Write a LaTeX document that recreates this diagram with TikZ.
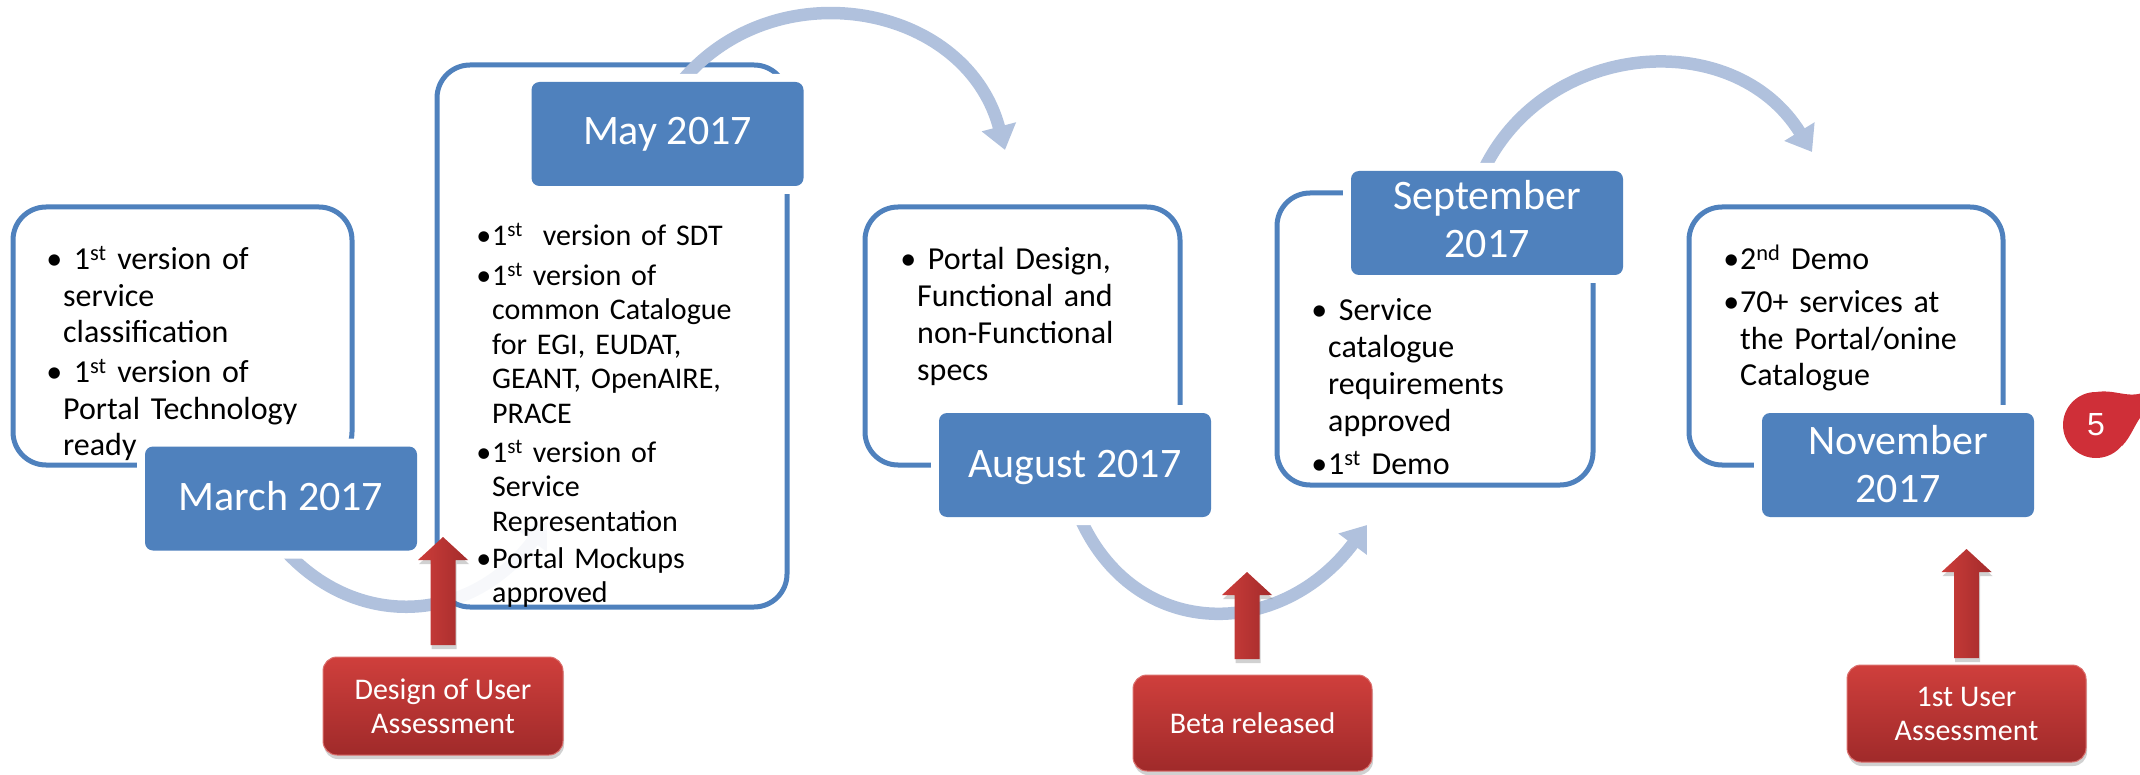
\documentclass[tikz,border=0pt]{standalone}
\usepackage{fontspec}
\setmainfont{Carlito}
\newfontfamily\badgefont{Liberation Sans}
\usetikzlibrary{arrows.meta,shadows}

\definecolor{ppblue}{HTML}{4F81BD}
\definecolor{arcblue}{HTML}{B0C1DD}
\definecolor{redtop}{HTML}{CF3F3C}
\definecolor{redbot}{HTML}{A02A2A}
\definecolor{redleft}{HTML}{CC3D3A}
\definecolor{redright}{HTML}{A32B2B}
\definecolor{badgered}{HTML}{CF2F38}

% hanging bullet placed left of the text column
\newcommand\bl{\leavevmode\llap{\textbullet\kern1pt}}
\newcommand\ord[1]{\textsuperscript{#1}}

% upward block arrow: x, tip y, tail y
\newcommand\blockup[3]{%
  \path[blockarrow] (#1-12.5,#3) -- (#1-12.5,#2+23) -- (#1-25,#2+23) -- (#1,#2)
    -- (#1+25,#2+23) -- (#1+12.5,#2+23) -- (#1+12.5,#3) -- cycle;}

\begin{document}
\begin{tikzpicture}[x=1pt,y=-1pt,
  panel/.style={draw=ppblue, line width=5pt, fill=white, fill opacity=0.9,
    rounded corners=33pt, inner sep=0pt},
  datebox/.style={fill=ppblue, rounded corners=8pt, inner sep=0pt,
    minimum width=272pt, minimum height=104pt,
    preaction={draw=white, line width=16pt}},
  datetext/.style={text=white, inner sep=0pt, align=center,
    font=\fontsize{42}{48}\selectfont},
  bullets/.style={anchor=base west, inner sep=0pt, align=left, text width=300pt,
    font=\fontsize{32}{36.5}\selectfont},
  flow/.style={draw=arcblue, line width=12.5pt,
    -{Triangle[length=24pt,width=34pt]}},
  redbox/.style={top color=redtop, bottom color=redbot, draw=redtop!75!white,
    line width=1pt, rounded corners=14pt, text=white, align=center,
    font=\fontsize{30}{34}\selectfont, inner sep=0pt,
    drop shadow={shadow xshift=1pt, shadow yshift=-4pt, opacity=0.3, fill=black!60}},
  blockarrow/.style={left color=redleft, right color=redright,
    drop shadow={shadow xshift=1pt, shadow yshift=-4pt, opacity=0.3, fill=black!60}}]

\useasboundingbox (0,0) rectangle (2140,775);

% flow from March, passing beneath the May panel
\coordinate (f1s) at (262,520);
\coordinate (f1e) at (547,522);
\draw[flow] (f1s) .. controls (331,630) and (463,634) .. (f1e);

% milestone panels
\node[panel, minimum width=339pt, minimum height=258pt] (p1) at (182.5,336) {};
\node[panel, minimum width=350pt, minimum height=542pt] (p2) at (612,336) {};
\node[panel, minimum width=315pt, minimum height=258pt] (p3) at (1022.5,336) {};
\node[panel, minimum width=316pt, minimum height=292pt] (p4) at (1435,339) {};
\node[panel, minimum width=314pt, minimum height=258pt] (p5) at (1846,336) {};

% flows between milestones
\coordinate (f2s) at (672,94);
\coordinate (f2e) at (1005,150);
\draw[flow] (f2s) .. controls (762,-34) and (965,-1) .. (f2e);
\coordinate (f3s) at (1073,500);
\coordinate (f3e) at (1367,525);
\draw[flow] (f3s) .. controls (1122,642) and (1277,645) .. (f3e);
\coordinate (f4s) at (1480,178);
\coordinate (f4e) at (1812,152);
\draw[flow] (f4s) .. controls (1539,40) and (1733,24) .. (f4e);

% date labels (multi-line labels are anchored on their last baseline)
\node[datebox] (mar) at (281,498.5) {};
\node[datebox] (may) at (667.5,134) {};
\node[datebox] (aug) at (1075,465) {};
\node[datebox] (sep) at (1487,223) {};
\node[datebox] (nov) at (1898,465) {};
\node[datetext, anchor=base] (tmar) at (281,510) {March 2017};
\node[datetext, anchor=base] (tmay) at (667.5,145) {May 2017};
\node[datetext, anchor=base] (taug) at (1075,477) {August 2017};
\node[datetext, anchor=base] (tsep) at (1487,258) {September\\2017};
\node[datetext, anchor=base] (tnov) at (1898,502) {November\\2017};

% panel contents
\node[bullets] (t1) at (63,270) {\bl\ 1\ord{st} version of\\service\\classification\par
  \vspace{3.5pt}\bl\ 1\ord{st} version of\\Portal Technology\\ready};
\node[bullets, font=\fontsize{30}{34.5}\selectfont] (t2) at (492,246)
  {\bl 1\ord{st}\ \ version of SDT\par\vspace{5pt}
   \bl 1\ord{st} version of\\common Catalogue\\for EGI, EUDAT,\\GEANT, OpenAIRE,\\PRACE\par\vspace{4.5pt}
   \bl 1\ord{st} version of\\Service\\Representation\par\vspace{2.5pt}
   \bl Portal Mockups\\approved};
\node[bullets, font=\fontsize{32}{36.7}\selectfont] (t3) at (917,270)
  {\bl\ Portal Design,\\Functional and\\non-Functional\\specs};
\node[bullets, font=\fontsize{32}{37.3}\selectfont] (t4) at (1328,320)
  {\bl\ Service\\catalogue\\requirements\\approved\par\vspace{5.5pt}\bl 1\ord{st} Demo};
\node[bullets] (t5) at (1740,270)
  {\bl 2\ord{nd} Demo\par\vspace{6.5pt}\bl 70+ services at\\the Portal/onine\\Catalogue};

% events below the timeline
\node[redbox, minimum width=240pt, minimum height=98pt] (dua) at (443,706)
  {Design of User\\Assessment};
\node[redbox, minimum width=239pt, minimum height=96pt] (beta) at (1252.5,723)
  {Beta released};
\node[redbox, minimum width=239pt, minimum height=97pt] (fua) at (1966.5,713.5)
  {1st User\\Assessment};
\blockup{443}{537}{645}
\blockup{1247}{572}{659}
\blockup{1966.5}{549}{658}

% page badge
\fill[badgered] (2088,394) .. controls (2112,386) and (2126,400) .. (2145,392)
  -- (2145,412) .. controls (2136,420) and (2132,436) .. (2122,446) -- cycle;
\node[circle, fill=badgered, minimum size=66pt, inner sep=0pt, text=white,
  font=\badgefont\fontsize{32}{32}\selectfont] (badge) at (2096,425) {5};

\end{tikzpicture}
\end{document}
